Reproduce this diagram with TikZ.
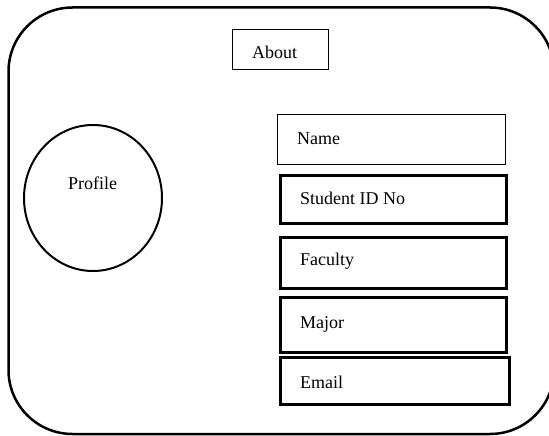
\documentclass[tikz,border=0pt]{standalone}
\usepackage{fontspec}
\setmainfont{Liberation Serif}
\usetikzlibrary{shapes.geometric}
\begin{document}
\begin{tikzpicture}[x=1pt,y=-1pt,
  every node/.style={font=\fontsize{18}{21}\selectfont},
  thinbox/.style={draw, line width=1pt, anchor=north west, inner sep=0pt},
  thickbox/.style={draw, line width=2.5pt, anchor=north west, inner sep=0pt},
  fieldtext/.style={anchor=base west, inner sep=0pt}]
\useasboundingbox (0,0) rectangle (549,436);
\draw[line width=2.5pt, rounded corners=64pt] (8.5,7.5) rectangle (554,434);
% About
\node[thinbox, minimum width=96pt, minimum height=40pt] (about) at (232,29) {};
\node[fieldtext] (abouttext) at (252,59) {About};
% Profile
\node[draw, ellipse, line width=2pt, minimum width=138pt, minimum height=146pt, inner sep=0pt] (profile) at (93,198) {};
\node[anchor=base, inner sep=0pt] (profiletext) at (92.5,189.5) {Profile};
% Fields
\node[thinbox, minimum width=228pt, minimum height=50pt] (name) at (277,114) {};
\node[thickbox, minimum width=226pt, minimum height=48pt] (sid) at (279,174) {};
\node[thickbox, minimum width=226pt, minimum height=51pt] (fac) at (279,236) {};
\node[thickbox, minimum width=226pt, minimum height=55pt] (maj) at (279,296) {};
\node[thickbox, minimum width=229pt, minimum height=47pt] (mail) at (279,356) {};
\node[fieldtext] (nametext) at (297,144) {Name};
\node[fieldtext] (sidtext) at (300,204) {Student ID No};
\node[fieldtext] (factext) at (300,265) {Faculty};
\node[fieldtext] (majtext) at (300,328) {Major};
\node[fieldtext] (mailtext) at (300,388) {Email};
\end{tikzpicture}
\end{document}
